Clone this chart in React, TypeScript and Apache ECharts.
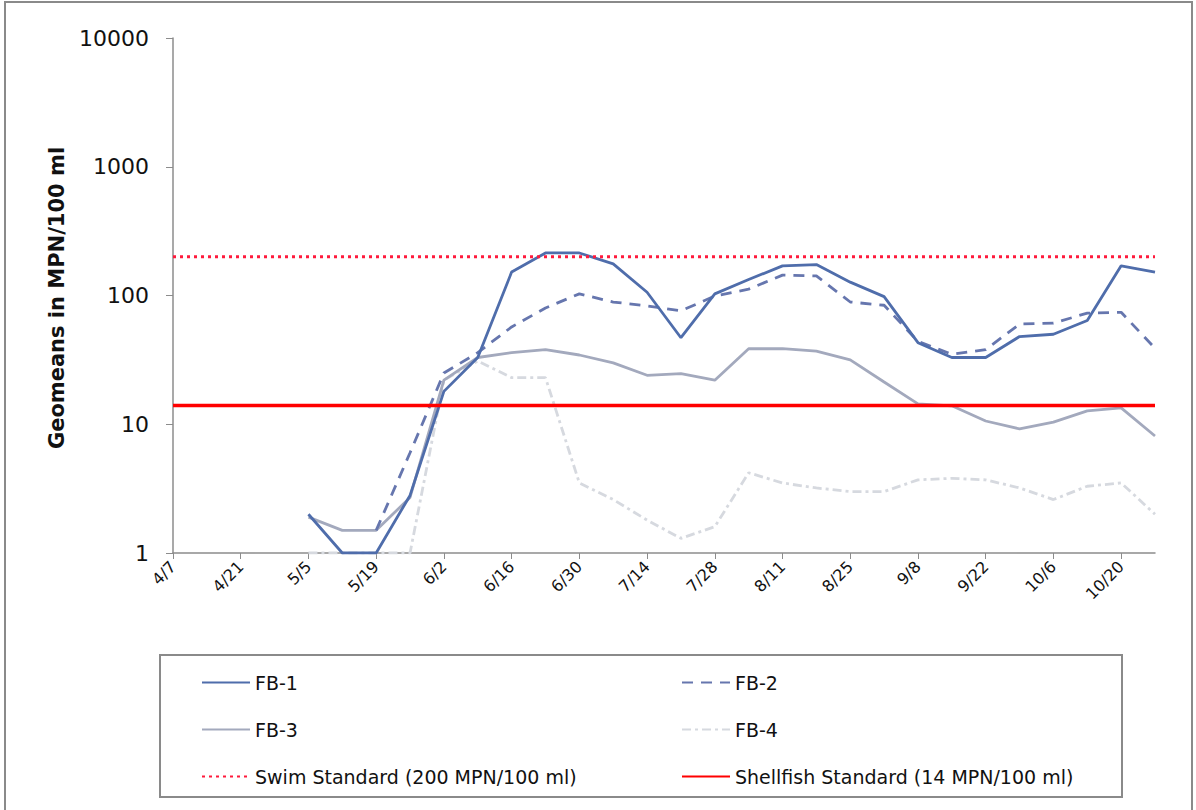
import React, { useEffect, useRef } from "react";
import * as echarts from "echarts";

const categories = [
  "4/7", "4/14", "4/21", "4/28", "5/5", "5/12", "5/19", "5/26", "6/2", "6/9",
  "6/16", "6/23", "6/30", "7/7", "7/14", "7/21", "7/28", "8/4", "8/11", "8/18",
  "8/25", "9/1", "9/8", "9/15", "9/22", "9/29", "10/6", "10/13", "10/20", "10/27",
];

const fb1 = [
  null, null, null, null, 2, 1, 1, 2.8, 18, 33,
  152, 214, 214, 176, 106, 47, 103, 133, 170, 174,
  127, 98, 43, 33, 33, 48, 50, 64, 170, 152,
];
const fb2 = [
  null, null, null, null, null, null, 1.5, 6, 25, 36,
  57, 80, 103, 89, 83, 76, 99, 112, 144, 142,
  89, 84, 44, 35, 38, 60, 61, 73, 74, 39,
];
const fb3 = [
  null, null, null, null, 1.9, 1.5, 1.5, 2.7, 22, 33,
  36, 38, 34.5, 30, 24, 24.7, 22, 38.6, 38.6, 37,
  31.6, 21.3, 14.4, 13.9, 10.6, 9.2, 10.4, 12.7, 13.4, 8.1,
];
const fb4 = [
  null, null, null, null, 1, 1, 1, 1, 22, 31,
  23, 23, 3.5, 2.6, 1.8, 1.3, 1.6, 4.2, 3.5, 3.2,
  3.0, 3.0, 3.7, 3.8, 3.7, 3.2, 2.6, 3.3, 3.5, 2.0,
];
const swimStandard = 200;
const shellfishStandard = 14;
const yTicks = [1, 10, 100, 1000, 10000];

const FONT = "DejaVu Sans";

export default function App() {
  const ref = useRef<HTMLDivElement>(null);
  useEffect(() => {
    if (!ref.current) return;
    const chart = echarts.init(ref.current, null, { renderer: "svg" });
    const swim = categories.map(() => swimStandard);
    const shell = categories.map(() => shellfishStandard);
    const legendText = { fontFamily: FONT, fontSize: 19, color: "#111" };
    const legendCommon = {
      orient: "vertical",
      top: 668,
      itemWidth: 48,
      itemHeight: 14,
      itemGap: 28,
      textStyle: legendText,
      selectedMode: false,
      itemStyle: { opacity: 0 },
    };
    chart.setOption({
      animation: false,
      backgroundColor: "#ffffff",
      grid: { left: 173, right: 41, top: 38, height: 515, containLabel: false },
      legend: [
        {
          ...legendCommon,
          data: ["FB-1", "FB-3", "Swim Standard (200 MPN/100 ml)"],
          left: 196,
        },
        {
          ...legendCommon,
          data: ["FB-2", "FB-4", "Shellfish Standard (14 MPN/100 ml)"],
          left: 676,
        },
      ],
      xAxis: {
        type: "category",
        data: categories,
        boundaryGap: false,
        axisLine: { lineStyle: { color: "#8c8c8c", width: 1.5 } },
        axisTick: { show: true, interval: 1, length: 6, lineStyle: { color: "#8c8c8c" } },
        axisLabel: {
          interval: 1,
          rotate: 45,
          fontFamily: FONT,
          fontSize: 16,
          color: "#111",
          margin: 11,
        },
        splitLine: { show: false },
      },
      yAxis: {
        type: "log",
        logBase: 10,
        min: yTicks[0],
        max: yTicks[yTicks.length - 1],
        axisLine: { show: true, lineStyle: { color: "#8c8c8c", width: 1.5 } },
        axisTick: { show: true, length: 7, lineStyle: { color: "#8c8c8c" } },
        axisLabel: {
          fontFamily: FONT,
          fontSize: 22,
          color: "#111",
          margin: 24,
          formatter: (v: number) => String(Math.round(v)),
        },
        splitLine: { show: false },
        minorTick: { show: false },
      },
      graphic: [
        {
          type: "rect",
          shape: { x: 5, y: 2, width: 1187, height: 820 },
          style: { fill: "none", stroke: "#8a8a8a", lineWidth: 2 },
          silent: true,
        },
        {
          type: "rect",
          shape: { x: 160, y: 655, width: 962, height: 142 },
          style: { fill: "none", stroke: "#8a8a8a", lineWidth: 2 },
          silent: true,
          z: -1,
        },
        {
          type: "text",
          x: 57,
          y: 298,
          rotation: Math.PI / 2,
          style: {
            text: "Geomeans in MPN/100 ml",
            fontFamily: FONT,
            fontSize: 21,
            fontWeight: "bold",
            fill: "#111",
            align: "center",
            verticalAlign: "middle",
          },
        },
      ],
      series: [
        {
          name: "FB-1",
          type: "line",
          data: fb1,
          symbol: "none",
          connectNulls: false,
          lineStyle: { color: "#4f6dab", width: 2.8 },
          itemStyle: { color: "#4f6dab" },
          z: 5,
        },
        {
          name: "FB-2",
          type: "line",
          data: fb2,
          symbol: "none",
          lineStyle: { color: "#6676ae", width: 2.8, type: [11, 8] },
          itemStyle: { color: "#6676ae" },
          z: 4,
        },
        {
          name: "FB-3",
          type: "line",
          data: fb3,
          symbol: "none",
          lineStyle: { color: "#a3a9bd", width: 2.8 },
          itemStyle: { color: "#a3a9bd" },
          z: 3,
        },
        {
          name: "FB-4",
          type: "line",
          data: fb4,
          symbol: "none",
          lineStyle: { color: "#d6d9df", width: 2.8, type: [9, 4, 3, 4] },
          itemStyle: { color: "#d6d9df" },
          z: 2,
        },
        {
          name: "Swim Standard (200 MPN/100 ml)",
          type: "line",
          data: swim,
          symbol: "none",
          lineStyle: { color: "#ff1a3c", width: 3, type: [3, 4] },
          itemStyle: { color: "#ff1a3c" },
          z: 6,
        },
        {
          name: "Shellfish Standard (14 MPN/100 ml)",
          type: "line",
          data: shell,
          symbol: "none",
          lineStyle: { color: "#ff0000", width: 3.5 },
          itemStyle: { color: "#ff0000" },
          z: 6,
        },
      ],
    });
    return () => chart.dispose();
  }, []);
  return (
    <div
      ref={ref}
      style={{ position: "absolute", left: 0, top: 0, width: 1196, height: 810 }}
    />
  );
}
